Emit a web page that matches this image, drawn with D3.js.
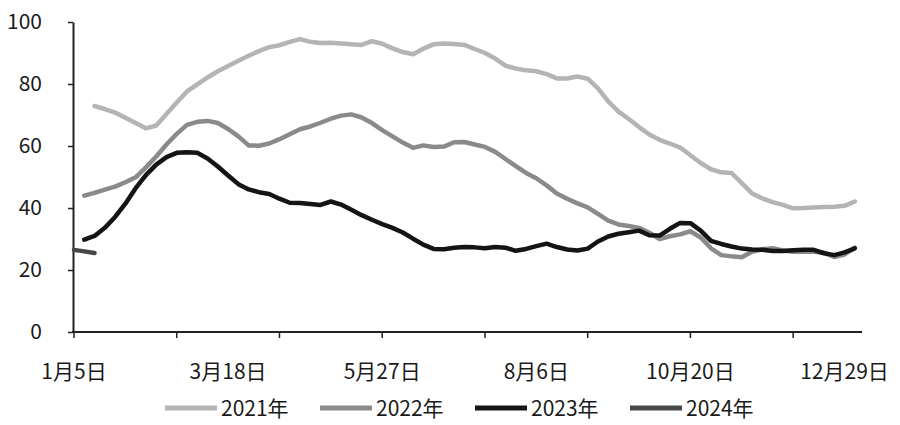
<!DOCTYPE html>
<html><head><meta charset="utf-8">
<script src="https://cdn.jsdelivr.net/npm/d3@7"></script>
<style>body{margin:0;background:#fff}svg{display:block}text{font-family:"Noto Sans CJK SC","Noto Sans",sans-serif;fill:#1a1a1a}</style>
</head><body><svg id="c" width="900" height="425"></svg>
<script>
const xLabels = ["1月5日","3月18日","5月27日","8月6日","10月20日","12月29日"];
const xLabelIdx = [0,15,30,45,60,75];
const xTickIdx = [0,10,20,30,40,50,60,70];
const yTicks = [0,20,40,60,80,100];
const seriesNames = ["2021年","2022年","2023年","2024年"];
const s2021 = [null,null,72.9,71.9,70.8,69.1,67.4,65.7,66.6,70.3,74,77.6,79.9,82.1,84.1,85.8,87.5,89.1,90.6,91.9,92.5,93.6,94.5,93.6,93.2,93.3,93.1,92.8,92.6,93.8,93,91.5,90.3,89.6,91.4,92.8,93.1,92.9,92.6,91.3,90,88.2,85.9,85,84.4,84.1,83.2,81.8,81.8,82.4,81.7,78.6,74.4,71.1,68.7,66.1,63.7,62,60.8,59.5,57,54.5,52.5,51.5,51.3,48,44.7,43.1,41.9,41,39.9,40,40.2,40.3,40.4,40.7,42.1];
const s2022 = [null,44,44.9,45.9,46.9,48.3,49.9,53.1,56.6,60.5,63.9,66.8,67.8,68.1,67.4,65.5,63.1,60.2,60.1,60.8,62.2,63.8,65.4,66.3,67.5,68.8,69.8,70.2,69.2,67.4,65.1,63.1,61.1,59.4,60.2,59.7,59.8,61.2,61.3,60.5,59.7,58.1,55.8,53.5,51.3,49.6,47.3,44.7,43,41.5,40.2,38.1,35.9,34.7,34.2,33.6,32,30,30.9,31.5,32.5,30.5,27,24.8,24.4,24.1,25.9,26.7,27,26.3,25.9,25.9,25.9,25.6,24.2,25,27.2];
const s2023 = [null,29.8,31,33.6,37.1,41.4,46.4,50.6,54,56.4,57.8,58,57.8,56,53.4,50.5,47.7,46,45.1,44.5,43,41.7,41.6,41.3,41,42.1,41.1,39.4,37.7,36.2,34.8,33.6,32.1,30.1,28.2,26.8,26.7,27.2,27.4,27.3,27,27.4,27.2,26.2,26.8,27.7,28.5,27.4,26.6,26.3,26.9,29.2,30.8,31.7,32.2,32.7,31.2,31.1,33.3,35.2,35.1,32.7,29.4,28.4,27.6,26.9,26.6,26.5,26.1,26.1,26.4,26.5,26.5,25.4,24.8,25.7,27];
const s2024 = [26.5,26,25.5];
const colors = ["#b4b4b4","#8a8a8a","#141414","#474747"];

const svg = d3.select("#c");
const x = d3.scaleLinear().domain([0,76.7]).range([74,862]);
const y = d3.scaleLinear().domain([0,100]).range([332,22]);

// y axis
const yAxis = d3.axisLeft(y).tickValues(yTicks).tickSize(5).tickPadding(26).tickSizeOuter(0);
const gy = svg.append("g").attr("transform","translate(73,0)").call(yAxis);
gy.select(".domain").attr("stroke","#222").attr("stroke-width",2);
gy.selectAll(".tick line").attr("stroke","#222").attr("stroke-width",1.5);
gy.selectAll("text").attr("font-size",21).style("font-family",'"Noto Sans CJK SC",sans-serif').attr("fill","#1a1a1a");

// x axis
svg.append("line").attr("x1",72).attr("x2",862).attr("y1",332).attr("y2",332).attr("stroke","#222").attr("stroke-width",2);
svg.append("g").selectAll("line").data(xTickIdx).join("line")
  .attr("x1",d=>x(d)).attr("x2",d=>x(d)).attr("y1",332).attr("y2",338)
  .attr("stroke","#222").attr("stroke-width",1.5);
svg.append("g").selectAll("text").data(xLabels).join("text")
  .attr("x",(d,i)=>x(xLabelIdx[i])).attr("y",372).attr("dy","0.35em")
  .attr("text-anchor","middle").attr("font-size",21).text(d=>d);

// lines
const line = d3.line().defined(d=>d[1]!=null).x(d=>x(d[0])).y(d=>y(d[1]));
[s2021,s2022,s2023,s2024].forEach((s,i)=>{
  svg.append("path").datum(s.map((v,j)=>[j,v]))
    .attr("d",line).attr("fill","none").attr("stroke",colors[i])
    .attr("stroke-width",4.5).attr("stroke-linejoin","round").attr("stroke-linecap","round");
});

// legend
const lg = svg.append("g");
seriesNames.forEach((n,i)=>{
  const x0 = 165 + i*155;
  lg.append("line").attr("x1",x0).attr("x2",x0+52).attr("y1",408).attr("y2",408)
    .attr("stroke",colors[i]).attr("stroke-width",5);
  lg.append("text").attr("x",x0+56).attr("y",409).attr("dy","0.35em").attr("font-size",21).text(n);
});
</script></body></html>
